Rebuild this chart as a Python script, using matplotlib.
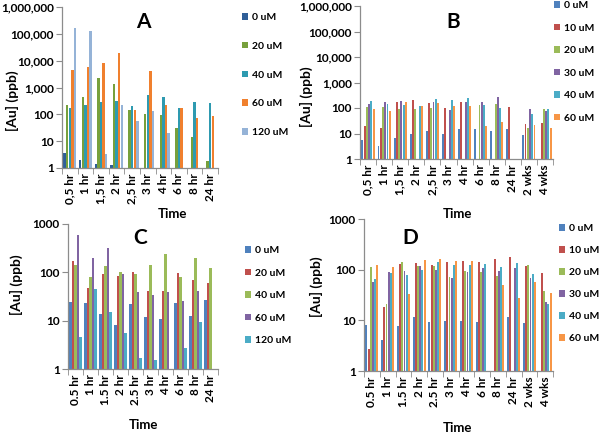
import numpy as np
import matplotlib
matplotlib.use('Agg')
import matplotlib.pyplot as plt
from matplotlib.ticker import FixedLocator, FuncFormatter, NullFormatter

plt.rcParams['font.family'] = ['Lato', 'DejaVu Sans']
plt.rcParams['font.weight'] = 'bold'

nan = np.nan

# Panel A
times_a = ['0,5 hr', '1 hr', '1,5 hr', '2 hr', '2,5 hr', '3 hr', '4 hr', '6 hr', '8 hr', '24 hr']
conc_a = ['0 uM', '20 uM', '40 uM', '60 uM', '120 uM']
a_0 = [3.6, 2.0, 1.4, 1.25, nan, nan, nan, nan, nan, nan]
a_20 = [225, 440, 2200, 1340, 147, 105, 93, 32, 14, 1.9]
a_40 = [175, 225, 285, 310, 200, 520, 440, 175, 300, 270]
a_60 = [4600, 5600, 8400, 20000, 147, 4200, 225, 175, 76, 87]
a_120 = [170000, 124000, 3.3, 225, 55, 135, 21, nan, nan, nan]
colors_a = ['#2F5F98', '#77A03C', '#2E9AB0', '#F0802E', '#95B3D7']

# Panel B
times_b = ['0,5 hr', '1 hr', '1,5 hr', '2 hr', '2,5 hr', '3 hr', '4 hr', '6 hr', '8 hr', '24 hr', '2 wks', '4 wks']
conc_b = ['0 uM', '10 uM', '20 uM', '30 uM', '40 uM', '60 uM']
b_0 = [5.6, 3.3, 6.4, 10, 12, 9.2, 15, 15, 13, 15, 8.4, nan]
b_10 = [19, 17, 170, 200, 156, 100, 166, nan, nan, 107, 24, 25]
b_20 = [112, 112, 89, 89, 97, nan, nan, 130, 138, nan, 16, 88]
b_30 = [140, 178, 180, nan, 178, 84, 166, 166, 275, nan, 89, 75]
b_40 = [180, 140, 127, 116, 218, 200, 250, 127, 97, nan, 60, 95]
b_60 = [89, 76, 178, 123, 152, 120, 120, 20, 28, nan, 21, 17]

# Panel C
times_c = ['0.5 hr', '1 hr', '1.5 hr', '2 hr', '2.5 hr', '3 hr', '4 hr', '6 hr', '8 hr', '24 hr']
conc_c = ['0 uM', '20 uM', '40 uM', '60 uM', '120 uM']
c_0 = [24.7, 23.5, 13.5, 8, 22.5, 12, 10.8, 23.5, 12.7, 27]
c_20 = [174, 47.5, 91, 84, 100, 41, 41, 95, 69, 59]
c_40 = [145, 79, 133, 103, 91, 139, 244, 81, 200, 125]
c_60 = [590, 194, 318, 91, 39, 34, 40, 26, 42, nan]
c_120 = [4.5, 45, 15, 5.5, 1.7, 1.5, nan, 2.7, 9.5, nan]

# Panel D
times_d = ['0.5 hr', '1 hr', '1.5 hr', '2 hr', '2.5 hr', '3 hr', '4 hr', '6 hr', '8 hr', '24 hr', '2 wks', '4 wks']
conc_d = ['0 uM', '10 uM', '20 uM', '30 uM', '40 uM', '60 uM']
d_0 = [8, 4, 7.8, 11.4, 9.3, 9.5, 9.6, 9.2, nan, 11.5, 8.8, nan]
d_10 = [2.75, 18, 129, 133, 122, 139, 150, 142, 165, 180, 118, 85]
d_20 = [111, 21, 144, 120, 120, 71, 95, 92, 75, nan, 122, 38]
d_30 = [58, 91, 96, 118, 100, 70, 88, 110, 95, 106, 68, 23.5]
d_40 = [64, 87, 77, 98, 144, 123, 125, 130, 115, 133, 81, 21]
d_60 = [122, 111, 33, 152, 165, 148, 148, nan, 50, 28, 56, 34]

colors_6 = ['#4F81BD', '#C0504D', '#9BBB59', '#8064A2', '#4BACC6', '#F79646']
colors_c = ['#4F81BD', '#C0504D', '#9BBB59', '#8064A2', '#4BACC6']

W, H = 600, 434
fig = plt.figure(figsize=(6, 4.34), dpi=100)


def px(x0, y0, x1, y1):
    return [x0 / W, 1 - y1 / H, (x1 - x0) / W, (y1 - y0) / H]


def panel(rect, times, series, conc, colors, ymax, commas, leg_xy, leg_sp):
    ax = fig.add_axes(rect)
    ax.set_yscale('log')
    n = len(series)
    x = np.arange(len(times))
    group = 0.84
    slot = group / n
    for i, (vals, c, lab) in enumerate(zip(series, colors, conc)):
        v = np.array(vals, dtype=float)
        off = -group / 2 + slot * (i + 0.5)
        ax.bar(x + off, v - 1, bottom=1, width=slot * 0.88, color=c, label=lab, linewidth=0)
    ax.set_xlim(-0.5, len(times) - 0.5)
    ax.set_ylim(1, ymax)
    for s in ['top', 'right']:
        ax.spines[s].set_visible(False)
    for s in ['left', 'bottom']:
        ax.spines[s].set_color('#8c8c8c')
        ax.spines[s].set_linewidth(0.9)
    ticks = [10 ** k for k in range(int(round(np.log10(ymax))) + 1)]
    ax.yaxis.set_major_locator(FixedLocator(ticks))
    ax.yaxis.set_minor_formatter(NullFormatter())
    ax.yaxis.set_minor_locator(FixedLocator([]))
    if commas:
        ax.yaxis.set_major_formatter(FuncFormatter(lambda v, p: '{:,.0f}'.format(v)))
    else:
        ax.yaxis.set_major_formatter(FuncFormatter(lambda v, p: '{:.0f}'.format(v)))
    ax.set_xticks(x)
    ax.set_xticklabels(times, rotation=90)
    ax.set_xticks(np.arange(len(times) + 1) - 0.5, minor=True)
    ax.tick_params(axis='x', which='major', length=0, labelsize=8.5, pad=4)
    ax.tick_params(axis='x', which='minor', length=4, color='#8c8c8c')
    ax.tick_params(axis='y', which='major', length=4, color='#8c8c8c', labelsize=8.5, pad=2)
    ax.legend(loc='upper left', bbox_to_anchor=(leg_xy[0] / W, 1 - leg_xy[1] / H),
              bbox_transform=fig.transFigure, frameon=False, fontsize=7.5,
              handlelength=0.6, handleheight=0.6, handletextpad=0.4,
              labelspacing=leg_sp, borderpad=0, borderaxespad=0)
    return ax


panel(px(62, 7, 218, 168), times_a, [a_0, a_20, a_40, a_60, a_120], conc_a, colors_a,
      1e6, True, (242, 13), 1.9)
panel(px(360, 6, 553, 159), times_b, [b_0, b_10, b_20, b_30, b_40, b_60], conc_b, colors_6,
      1e6, True, (554, 1), 1.3)
panel(px(68, 224, 218, 369), times_c, [c_0, c_20, c_40, c_60, c_120], conc_c, colors_c,
      1000, False, (245, 246), 1.3)
panel(px(364, 219, 553, 371), times_d, [d_0, d_10, d_20, d_30, d_40, d_60], conc_d, colors_6,
      1000, False, (559, 224), 1.25)

for t, (xx, yy) in zip(['A', 'B', 'C', 'D'], [(143, 22), (453, 22), (140, 238), (410, 238)]):
    fig.text(xx / W, 1 - yy / H, t, ha='center', va='center', fontsize=15, fontweight='bold')

for xx, yy in [(172, 214), (457, 214), (143, 425), (457, 428)]:
    fig.text(xx / W, 1 - yy / H, 'Time', ha='center', va='center', fontsize=9.5, fontweight='bold')

for xx, yy in [(12, 101), (306, 97), (16, 285), (316, 287)]:
    fig.text(xx / W, 1 - yy / H, '[Au] (ppb)', ha='center', va='center', rotation=90,
             fontsize=10, fontweight='bold')

fig.savefig('out.png', dpi=100)
